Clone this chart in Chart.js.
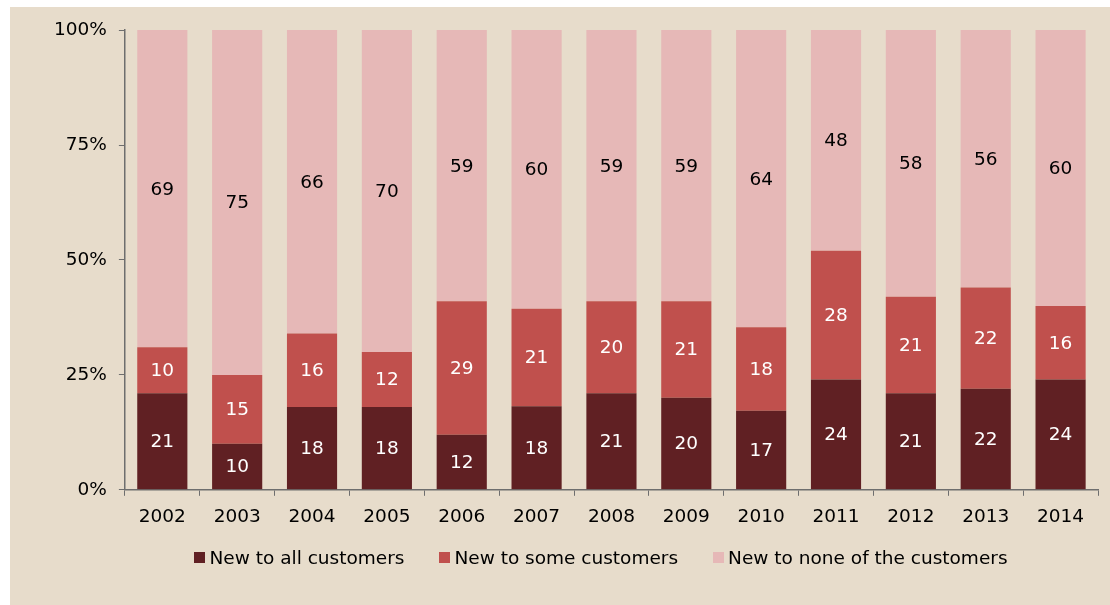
<!DOCTYPE html>
<html lang="en">
<head>
    <meta charset="UTF-8">
    <title>New products by customer reach</title>
    <style>
        body {
            margin: 0;
            padding: 0;
            background-color: #ffffff;
            font-family: "DejaVu Sans", Verdana, sans-serif;
        }

        .chart-box {
            position: absolute;
            left: 10px;
            top: 7px;
            width: 1100px;
            height: 598px;
            background-color: #e7dccb;
        }

        .legend {
            position: absolute;
            left: 0;
            top: 540px;
            width: 100%;
            box-sizing: border-box;
            padding-left: 82px;
            display: flex;
            justify-content: center;
            font-size: 18.5px;
            color: #000000;
        }

        .legend-item {
            display: flex;
            align-items: center;
            margin: 0 17.5px;
        }

        .legend-item span.box {
            display: inline-block;
            width: 11px;
            height: 11px;
            margin-right: 4px;
        }
    </style>
    <script src="https://cdn.jsdelivr.net/npm/chart.js"></script>
</head>
<body>
    <div class="chart-box">
        <canvas id="shareChart" width="1100" height="598"></canvas>
        <div class="legend" id="legend"></div>
    </div>

    <script>
        // Yearly shares (in %) of new products by how many customers they are new to
        const years = ['2002', '2003', '2004', '2005', '2006', '2007', '2008',
                       '2009', '2010', '2011', '2012', '2013', '2014'];
        const newToAll  = [21, 10, 18, 18, 12, 18, 21, 20, 17, 24, 21, 22, 24];
        const newToSome = [10, 15, 16, 12, 29, 21, 20, 21, 18, 28, 21, 22, 16];
        const newToNone = [69, 75, 66, 70, 59, 60, 59, 59, 64, 48, 58, 56, 60];
        const percentTicks = [0, 25, 50, 75, 100];

        const seriesNames = ['New to all customers', 'New to some customers', 'New to none of the customers'];
        const seriesColors = ['#602023', '#c0504d', '#e6b8b7'];
        const labelColors = ['#ffffff', '#ffffff', '#000000'];

        // each bar is stretched to 100% (rounded shares don't always add up)
        const rows = [newToAll, newToSome, newToNone];
        const totals = years.map((y, i) => rows.reduce((s, r) => s + r[i], 0));
        const toPercent = arr => arr.map((v, i) => v / totals[i] * 100);

        const fontFamily = '"DejaVu Sans", Verdana, sans-serif';
        const fontSize = 18.5;
        const axisColor = '#6e6e6e';

        // writes the original value in the middle of each segment
        const segmentLabels = {
            id: 'segmentLabels',
            afterDatasetsDraw(chart) {
                const ctx = chart.ctx;
                ctx.save();
                ctx.font = fontSize + 'px ' + fontFamily;
                ctx.textAlign = 'center';
                ctx.textBaseline = 'middle';
                chart.data.datasets.forEach((ds, di) => {
                    const meta = chart.getDatasetMeta(di);
                    ctx.fillStyle = labelColors[di];
                    meta.data.forEach((bar, i) => {
                        const mid = (bar.y + bar.base) / 2;
                        ctx.fillText(String(ds.rawValues[i]), bar.x, mid + 1);
                    });
                });
                ctx.restore();
            }
        };

        const datasets = rows.map((r, i) => ({
            label: seriesNames[i],
            data: toPercent(r),
            rawValues: r,
            backgroundColor: seriesColors[i],
            borderWidth: 0,
            categoryPercentage: 1.0,
            barPercentage: 0.67
        }));

        new Chart(document.getElementById('shareChart').getContext('2d'), {
            type: 'bar',
            data: { labels: years, datasets: datasets },
            options: {
                responsive: false,
                animation: false,
                layout: {
                    padding: { left: 32, right: 12, top: 19, bottom: 67 }
                },
                plugins: {
                    tooltip: { enabled: false },
                    legend: { display: false }
                },
                scales: {
                    x: {
                        stacked: true,
                        offset: true,
                        grid: {
                            offset: true,
                            drawOnChartArea: false,
                            drawTicks: true,
                            tickLength: 6,
                            color: axisColor
                        },
                        border: { display: true, color: axisColor, width: 1.5 },
                        ticks: {
                            color: '#000000',
                            font: { family: fontFamily, size: fontSize },
                            padding: 10
                        }
                    },
                    y: {
                        stacked: true,
                        min: 0,
                        max: 100,
                        afterBuildTicks(axis) {
                            axis.ticks = percentTicks.map(v => ({ value: v }));
                        },
                        grid: {
                            drawOnChartArea: false,
                            drawTicks: true,
                            tickLength: 6,
                            color: axisColor
                        },
                        border: { display: true, color: axisColor, width: 1.5 },
                        ticks: {
                            color: '#000000',
                            font: { family: fontFamily, size: fontSize },
                            padding: 12,
                            callback: v => v + '%'
                        }
                    }
                }
            },
            plugins: [segmentLabels]
        });

        // legend below the axis
        const legend = document.getElementById('legend');
        seriesNames.forEach((name, i) => {
            const item = document.createElement('div');
            item.className = 'legend-item';
            const box = document.createElement('span');
            box.className = 'box';
            box.style.backgroundColor = seriesColors[i];
            item.appendChild(box);
            item.appendChild(document.createTextNode(name));
            legend.appendChild(item);
        });
    </script>
</body>
</html>
